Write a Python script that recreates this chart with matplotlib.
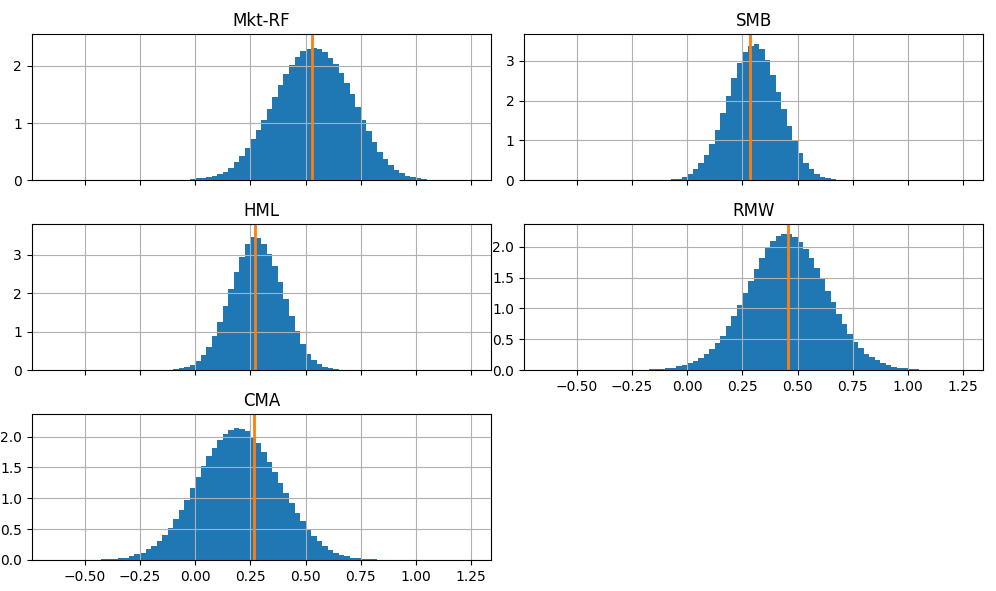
import numpy as np
import matplotlib
matplotlib.use("Agg")
import matplotlib.pyplot as plt

# bin width shared by all panels, left edge of first bin per panel
BIN_W = 0.025

factor_names = ["Mkt-RF", "SMB", "HML", "RMW", "CMA"]

mkt_start = -0.100
mkt_dens = [0.00, 0.005, 0.01, 0.015, 0.03, 0.04, 0.06, 0.08, 0.11, 0.15,
            0.22, 0.31, 0.43, 0.57, 0.72, 0.88, 1.06, 1.25, 1.46, 1.66,
            1.86, 2.02, 2.16, 2.26, 2.30, 2.32, 2.30, 2.24, 2.14, 2.03,
            1.88, 1.70, 1.50, 1.28, 1.06, 0.86, 0.66, 0.50, 0.37, 0.26,
            0.18, 0.12, 0.08, 0.05, 0.03, 0.02, 0.01, 0.005]

smb_start = -0.125
smb_dens = [0.005, 0.01, 0.02, 0.04, 0.08, 0.15, 0.27, 0.42, 0.62, 0.90,
            1.27, 1.68, 2.12, 2.57, 2.95, 3.22, 3.38, 3.42, 3.30, 3.02,
            2.64, 2.22, 1.78, 1.36, 0.98, 0.67, 0.43, 0.27, 0.16, 0.09,
            0.05, 0.02, 0.01]

hml_start = -0.125
hml_dens = [0.01, 0.02, 0.04, 0.08, 0.14, 0.24, 0.38, 0.60, 0.88, 1.25,
            1.68, 2.12, 2.56, 2.96, 3.28, 3.46, 3.45, 3.28, 3.02, 2.70,
            2.30, 1.86, 1.42, 1.02, 0.68, 0.43, 0.26, 0.15, 0.08, 0.04,
            0.02, 0.01]

rmw_start = -0.225
rmw_dens = [0.003, 0.005, 0.01, 0.015, 0.02, 0.03, 0.04, 0.06, 0.08, 0.11,
            0.15, 0.20, 0.26, 0.34, 0.44, 0.56, 0.71, 0.88, 1.06, 1.25,
            1.45, 1.64, 1.82, 1.98, 2.10, 2.18, 2.21, 2.20, 2.15, 2.07,
            1.96, 1.82, 1.65, 1.47, 1.28, 1.10, 0.91, 0.74, 0.59, 0.46,
            0.35, 0.26, 0.21, 0.16, 0.11, 0.08, 0.05, 0.035, 0.025, 0.015,
            0.01, 0.005]

cma_start = -0.450
cma_dens = [0.005, 0.01, 0.015, 0.02, 0.03, 0.04, 0.06, 0.09, 0.12, 0.17,
            0.23, 0.31, 0.40, 0.52, 0.66, 0.81, 0.98, 1.16, 1.34, 1.52,
            1.68, 1.82, 1.94, 2.04, 2.11, 2.14, 2.13, 2.09, 2.00, 1.89,
            1.75, 1.59, 1.42, 1.25, 1.08, 0.92, 0.77, 0.63, 0.50, 0.39,
            0.30, 0.22, 0.16, 0.12, 0.08, 0.06, 0.04, 0.03, 0.02, 0.015,
            0.01, 0.005]

# point estimates (orange lines)
point_est = [0.527, 0.283, 0.272, 0.456, 0.268]

starts = [mkt_start, smb_start, hml_start, rmw_start, cma_start]
densities = [mkt_dens, smb_dens, hml_dens, rmw_dens, cma_dens]
y_tops = [2.56, 3.68, 3.81, 2.37, 2.37]

fig, axes = plt.subplots(3, 2, figsize=(9.96, 5.91), dpi=100, sharex=True)
fig.subplots_adjust(left=0.032, right=0.987, top=0.9425, bottom=0.0525,
                    wspace=0.072, hspace=0.30)
flat = axes.ravel()

for i, name in enumerate(factor_names):
    ax = flat[i]
    d = np.asarray(densities[i])
    edges = starts[i] + BIN_W * np.arange(len(d))
    ax.bar(edges, d, width=BIN_W, align="edge", color="C0", linewidth=0)
    ax.axvline(point_est[i], color="C1", linewidth=2)
    ax.set_title(name)
    ax.grid(True)
    ax.set_ylim(0, y_tops[i])

flat[0].set_xlim(-0.74, 1.34)
flat[0].set_xticks([-0.5, -0.25, 0.0, 0.25, 0.5, 0.75, 1.0, 1.25])
for i in (0, 2, 4):
    flat[i].set_yticks([0, 1, 2, 3] if y_tops[i] > 3 else [0, 1, 2])
flat[1].set_yticks([0, 1, 2, 3])
for i in (3, 4):
    flat[i].set_yticks([0.0, 0.5, 1.0, 1.5, 2.0])
    flat[i].set_yticklabels(["0.0", "0.5", "1.0", "1.5", "2.0"])

flat[5].remove()
flat[3].xaxis.set_tick_params(labelbottom=True)

fig.savefig("out.png", dpi=100)
